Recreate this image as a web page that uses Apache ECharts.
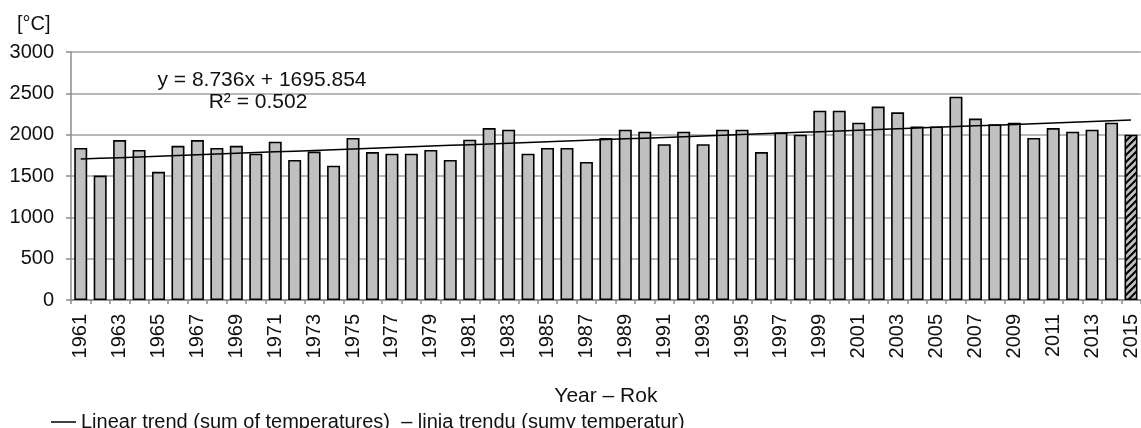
<!DOCTYPE html>
<html>
<head>
<meta charset="utf-8">
<style>
  html, body { margin: 0; padding: 0; background: #fff; }
  #chart { width: 1141px; height: 428px; }
</style>
<script src="https://cdn.jsdelivr.net/npm/echarts@6/dist/echarts.min.js"></script>
</head>
<body>
<div id="chart"></div>
<script>
// Years on the category axis
const years = [
  '1961','1962','1963','1964','1965','1966','1967','1968','1969','1970',
  '1971','1972','1973','1974','1975','1976','1977','1978','1979','1980',
  '1981','1982','1983','1984','1985','1986','1987','1988','1989','1990',
  '1991','1992','1993','1994','1995','1996','1997','1998','1999','2000',
  '2001','2002','2003','2004','2005','2006','2007','2008','2009','2010',
  '2011','2012','2013','2014','2015'
];

// Annual sum of temperatures [°C]
const tempSums = [
  1840, 1505, 1935, 1815, 1550, 1865, 1935, 1840, 1865, 1770,
  1915, 1695, 1795, 1625, 1960, 1790, 1770, 1770, 1815, 1695,
  1940, 2080, 2060, 1770, 1840, 1840, 1670, 1960, 2060, 2035,
  1885, 2035, 1885, 2060, 2060, 1790, 2025, 2000, 2290, 2290,
  2145, 2340, 2270, 2100, 2100, 2460, 2195, 2125, 2145, 1960,
  2080, 2035, 2060, 2145, 2000
];

// The last year is drawn hatched
const hatchedYear = '2015';

// Linear trend as stated in the equation label: y = a·x + b, x = 1..n
const trendSlope = 8.736;
const trendIntercept = 1695.854;
const trendR2 = 0.502;

const yTicks = { min: 0, max: 3000, interval: 500 };

const FONT = '"Liberation Sans", Arial, sans-serif';
const TXT = '#111';

// Diagonal hatch pattern: black "/" stripes on grey
function hatchPattern() {
  const s = 7;
  const c = document.createElement('canvas');
  c.width = s; c.height = s;
  const g = c.getContext('2d');
  g.fillStyle = '#c0c0c0';
  g.fillRect(0, 0, s, s);
  g.strokeStyle = '#000';
  g.lineWidth = 2;
  g.beginPath();
  g.moveTo(-1, s + 1); g.lineTo(s + 1, -1);
  g.moveTo(-1, 1); g.lineTo(1, -1);
  g.moveTo(s - 1, s + 1); g.lineTo(s + 1, s - 1);
  g.stroke();
  return c;
}

const barData = tempSums.map((v, i) => {
  if (years[i] === hatchedYear) {
    return { value: v, itemStyle: { color: { image: hatchPattern(), repeat: 'repeat' } } };
  }
  return v;
});

const trendData = years.map((_, i) => +(trendSlope * (i + 1) + trendIntercept).toFixed(2));

const fmt = (n, d) => n.toFixed(d);

const chart = echarts.init(document.getElementById('chart'), null, { renderer: 'canvas' });

chart.setOption({
  animation: false,
  backgroundColor: '#fff',
  textStyle: { fontFamily: FONT },
  grid: { left: 71, right: 0, top: 52, bottom: 128 },
  legend: {
    left: 46,
    top: 407,
    itemWidth: 25,
    itemHeight: 1.5,
    itemGap: 10,
    icon: 'rect',
    data: [{ name: 'Linear trend (sum of temperatures)  \u2013 linia trendu (sumy temperatur)' }],
    textStyle: { fontFamily: FONT, fontSize: 20, color: TXT, padding: [0, 0, 0, 0] }
  },
  xAxis: {
    type: 'category',
    data: years,
    boundaryGap: true,
    name: 'Year \u2013 Rok',
    nameLocation: 'middle',
    nameGap: 86,
    nameTextStyle: { fontFamily: FONT, fontSize: 21, color: TXT },
    axisLine: { lineStyle: { color: '#8c8c8c', width: 1.5 } },
    axisTick: { show: true, interval: 0, length: 4, lineStyle: { color: '#8c8c8c', width: 1.5 } },
    axisLabel: {
      interval: 1,
      rotate: 90,
      margin: 14,
      fontFamily: FONT,
      fontSize: 20,
      color: TXT
    },
    splitLine: { show: false }
  },
  yAxis: {
    type: 'value',
    min: yTicks.min,
    max: yTicks.max,
    interval: yTicks.interval,
    axisLine: { show: true, lineStyle: { color: '#8c8c8c', width: 1.5 } },
    axisTick: { show: true, length: 5, lineStyle: { color: '#8c8c8c', width: 1.5 } },
    axisLabel: {
      margin: 17, fontFamily: FONT, fontSize: 20, color: TXT,
      formatter: v => String(v)
    },
    splitLine: { show: true, lineStyle: { color: '#a0a0a0', width: 1.5 } }
  },
  series: [
    {
      name: 'Sum of temperatures',
      type: 'bar',
      data: barData,
      barWidth: 13,
      itemStyle: { color: '#c0c0c0', borderColor: '#000', borderWidth: 1.6 },
      z: 2
    },
    {
      name: 'Linear trend (sum of temperatures)  \u2013 linia trendu (sumy temperatur)',
      type: 'line',
      data: trendData,
      symbol: 'none',
      lineStyle: { color: '#000', width: 1.5 },
      itemStyle: { color: '#000' },
      z: 3
    }
  ],
  graphic: [
    {
      type: 'text',
      left: 17, top: 14,
      style: { text: '[\u00B0C]', font: '20px ' + FONT, fill: TXT }
    },
    {
      type: 'text',
      x: 262, y: 80,
      style: {
        text: 'y = ' + fmt(trendSlope, 3) + 'x + ' + fmt(trendIntercept, 3),
        font: '21px ' + FONT, fill: TXT, align: 'center', verticalAlign: 'middle'
      },
      z: 10
    },
    {
      type: 'text',
      x: 258, y: 102,
      style: {
        text: 'R\u00B2 = ' + fmt(trendR2, 3),
        font: '21px ' + FONT, fill: TXT, align: 'center', verticalAlign: 'middle'
      },
      z: 10
    }
  ]
});
</script>
</body>
</html>
